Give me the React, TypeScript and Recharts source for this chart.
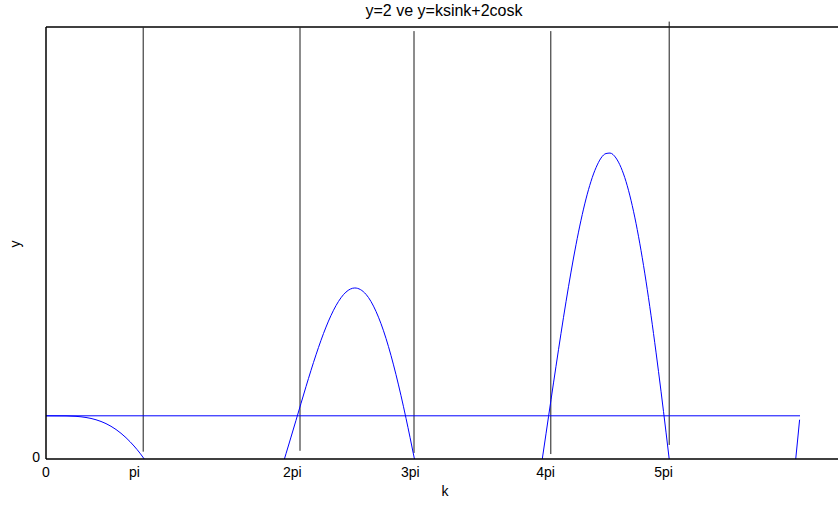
import React from "react";
import { LineChart, Line, XAxis, YAxis, ReferenceLine } from "recharts";

// Positive arcs of y = k·sin k + 2·cos k (values clipped at y = 0)
const ARC_1_K = [0, 0.5, 0.75, 1.0, 1.25, 1.5, 1.75, 2.0, 2.2, 2.35, 2.457];
const ARC_1_Y = [2, 1.995, 1.975, 1.922, 1.817, 1.638, 1.366, 0.986, 0.602, 0.267, 0];

const ARC_2_K = [5.96, 6.0, 6.25, 6.5, 6.75, 7.0, 7.25, 7.5, 7.72, 8.0, 8.25, 8.5, 8.75, 9.0, 9.1, 9.211];
const ARC_2_Y = [0, 0.244, 1.791, 3.351, 4.824, 6.107, 7.102, 7.728, 7.918, 7.624, 6.835, 5.583, 3.904, 1.887, 1.006, 0];

const ARC_3_K = [12.407, 12.5, 12.75, 13.0, 13.25, 13.5, 13.75, 14.0, 14.1, 14.25, 14.5, 14.75, 15.0, 15.25, 15.5, 15.58];
const ARC_3_Y = [0, 1.166, 4.294, 7.278, 9.921, 12.04, 13.487, 14.142, 14.164, 13.934, 12.847, 10.915, 8.235, 4.948, 1.244, 0];

const ARC_4_K = [18.743, 18.8, 18.84];
const ARC_4_Y = [0, 1.065, 1.819];

// Constant level y = 2
const LEVEL_K = [0, 18.85];
const LEVEL_Y = [2, 2];

// Vertical marker lines: position and vertical extent
const MARK_K = [2.43, 6.35, 9.2, 12.62, 15.58];
const MARK_LOW = [0.34, 0.38, 0.28, 0.23, 0.65];
const MARK_HIGH = [19.98, 19.98, 19.81, 19.81, 20.25];

// Axis ticks
const X_TICKS = [0, 2.21, 6.16, 9.11, 12.49, 15.44];
const X_LABELS = ["0", "pi", "2pi", "3pi", "4pi", "5pi"];
const Y_TICKS = [0];
const Y_MAX = 20;

const FONT = '"Liberation Sans", Arial, Helvetica, sans-serif';

const toPoints = (ks: number[], ys: number[]) => ks.map((k, i) => ({ k, y: ys[i] }));

const arcs = [
  toPoints(ARC_1_K, ARC_1_Y),
  toPoints(ARC_2_K, ARC_2_Y),
  toPoints(ARC_3_K, ARC_3_Y),
  toPoints(ARC_4_K, ARC_4_Y),
];
const level = toPoints(LEVEL_K, LEVEL_Y);

const XTick = (props: any) => {
  const { x, y, payload } = props;
  const idx = X_TICKS.indexOf(payload.value);
  return (
    <text x={x} y={y + 10} textAnchor="middle" fontSize={14} fontFamily={FONT} fill="#000">
      {idx >= 0 ? X_LABELS[idx] : String(payload.value)}
    </text>
  );
};

const YTick = (props: any) => {
  const { x, y, payload } = props;
  return (
    <text x={x} y={y + 3} textAnchor="end" fontSize={14} fontFamily={FONT} fill="#000">
      {String(payload.value)}
    </text>
  );
};

export default function App() {
  return (
    <div style={{ position: "absolute", left: 0, top: 0, width: 838, height: 506, overflow: "hidden", background: "#fff" }}>
      <LineChart
        width={860}
        height={506}
        margin={{ top: 27, right: 14, left: 0, bottom: 17 }}
      >
        <XAxis
          dataKey="k"
          type="number"
          domain={[0, 20]}
          ticks={X_TICKS}
          allowDataOverflow
          tickLine={false}
          axisLine={{ stroke: "#000", strokeWidth: 1.5 }}
          tick={<XTick />}
          height={30}
          interval={0}
        />
        <YAxis
          type="number"
          domain={[0, Y_MAX]}
          ticks={Y_TICKS}
          allowDataOverflow
          tickLine={false}
          tickMargin={0}
          axisLine={{ stroke: "#000", strokeWidth: 1.5 }}
          tick={<YTick />}
          width={46}
        />
        {/* upper frame edge */}
        <ReferenceLine y={Y_MAX} stroke="#000" strokeWidth={1.5} ifOverflow="visible" />
        {MARK_K.map((k, i) => (
          <ReferenceLine
            key={`m${i}`}
            segment={[
              { x: k, y: MARK_LOW[i] },
              { x: k, y: MARK_HIGH[i] },
            ]}
            stroke="#1a1a1a"
            strokeWidth={1}
            ifOverflow="visible"
          />
        ))}
        <Line
          data={level}
          dataKey="y"
          stroke="#0000ff"
          strokeWidth={1}
          dot={false}
          activeDot={false}
          type="linear"
          isAnimationActive={false}
        />
        {arcs.map((pts, i) => (
          <Line
            key={`a${i}`}
            data={pts}
            dataKey="y"
            stroke="#0000ff"
            strokeWidth={1}
            dot={false}
            activeDot={false}
            type="monotone"
            isAnimationActive={false}
          />
        ))}
      </LineChart>
      <svg
        width={838}
        height={506}
        style={{ position: "absolute", left: 0, top: 0, pointerEvents: "none" }}
      >
        <text x={444} y={16} textAnchor="middle" fontSize={16} fontFamily={FONT} fill="#000">
          y=2 ve y=ksink+2cosk
        </text>
        <text
          x={20}
          y={244}
          textAnchor="middle"
          fontSize={14}
          fontFamily={FONT}
          fill="#000"
          transform="rotate(-90 20 244)"
        >
          y
        </text>
        <text x={445} y={496} textAnchor="middle" fontSize={14} fontFamily={FONT} fill="#000">
          k
        </text>
      </svg>
    </div>
  );
}
